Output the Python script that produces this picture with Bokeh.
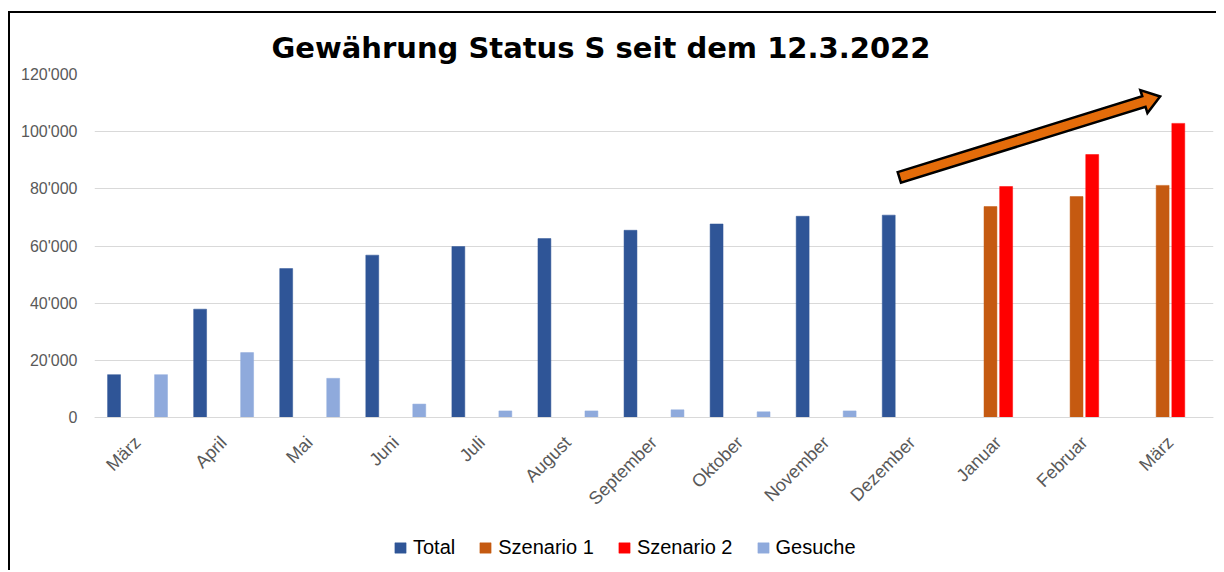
import math
from bokeh.plotting import figure
from bokeh.models import (ColumnDataSource, FixedTicker, Range1d, Legend, LegendItem)
from bokeh.transform import dodge
from bokeh.embed import file_html
from bokeh.resources import INLINE

# ---------------- data ----------------
months = ["März", "April", "Mai", "Juni", "Juli", "August", "September",
          "Oktober", "November", "Dezember", "Januar", "Februar", "März"]
nan = float("nan")
total = [15000, 37900, 52100, 56800, 59800, 62600, 65500, 67700, 70400, 70800, nan, nan, nan]
szenario1 = [nan, nan, nan, nan, nan, nan, nan, nan, nan, nan, 73800, 77300, 81200]
szenario2 = [nan, nan, nan, nan, nan, nan, nan, nan, nan, nan, 80800, 92000, 102900]
gesuche = [15000, 22700, 13700, 4700, 2300, 2300, 2700, 2000, 2300, nan, nan, nan, nan]
y_ticks = [0, 20000, 40000, 60000, 80000, 100000, 120000]
y_tick_labels = ["0", "20'000", "40'000", "60'000", "80'000", "100'000", "120'000"]
series_names = ["Total", "Szenario 1", "Szenario 2", "Gesuche"]
title_text = "Gewährung Status S seit dem 12.3.2022"
arrow_start = (8.85, 84000)
arrow_end = (11.88, 112300)

# ---------------- styling ----------------
colors = ["#2F5597", "#C55A11", "#FF0000", "#8FAADC"]
grey_text = "#595959"
grid_color = "#D9D9D9"
FONT = "Liberation Sans"

# frame spans from the top gridline down to the bottom of the window;
# the value axis occupies the upper 343 px of it
PLOT_H = 343
EXTRA_H = 153
FRAME_W, FRAME_H = 1119, PLOT_H + EXTRA_H
Y_MAX = 120000
Y_MIN = -Y_MAX * EXTRA_H / PLOT_H
MB_L, MB_R, MB_T, MB_B = 84, 3, 61, 0

x_idx = list(range(len(months)))
source = ColumnDataSource(dict(x=x_idx, total=total, sz1=szenario1,
                               sz2=szenario2, ges=gesuche))

p = figure(frame_width=FRAME_W, frame_height=FRAME_H,
           output_backend="svg", toolbar_location=None,
           x_range=Range1d(-0.5, len(months) - 0.5), y_range=Range1d(Y_MIN, Y_MAX),
           min_border_left=MB_L, min_border_right=MB_R,
           min_border_top=MB_T, min_border_bottom=MB_B)
p.outline_line_color = None
p.background_fill_color = "white"
p.border_fill_color = "white"
p.styles = {"border-left": "2px solid black", "border-top": "2px solid black",
            "margin-top": "11px", "margin-left": "8px"}

slot = 0.182
bw = 0.15
fields = ["total", "sz1", "sz2", "ges"]
offsets = [-1.5 * slot, -0.5 * slot, 0.5 * slot, 1.5 * slot]
renderers = []
for f, off, c in zip(fields, offsets, colors):
    r = p.vbar(x=dodge("x", off), top=f, bottom=0, width=bw, source=source,
               fill_color=c, line_color=c, line_width=0.5)
    renderers.append(r)

# axes
p.xgrid.grid_line_color = None
p.ygrid.grid_line_color = grid_color
p.ygrid.grid_line_width = 1
p.ygrid.ticker = FixedTicker(ticks=y_ticks)

p.yaxis.ticker = FixedTicker(ticks=y_ticks)
p.yaxis.major_label_overrides = {t: l for t, l in zip(y_ticks, y_tick_labels)}
p.yaxis.axis_line_color = None
p.yaxis.major_tick_line_color = None
p.yaxis.minor_tick_line_color = None
p.yaxis.major_label_text_font = FONT
p.yaxis.major_label_text_font_size = "16px"
p.yaxis.major_label_text_color = grey_text
p.yaxis.major_label_standoff = 11

p.xaxis.fixed_location = 0
p.xaxis.ticker = FixedTicker(ticks=x_idx)
p.xaxis.major_label_overrides = {i: m for i, m in zip(x_idx, months)}
p.xaxis.axis_line_color = grid_color
p.xaxis.major_tick_line_color = None
p.xaxis.minor_tick_line_color = None
p.xaxis.major_label_orientation = math.pi / 4
p.xaxis.major_label_text_font = FONT
p.xaxis.major_label_text_font_size = "18px"
p.xaxis.major_label_text_color = grey_text
p.xaxis.major_label_standoff = 16

# title
p.title.text = title_text
p.title.text_font = "DejaVu Sans"
p.title.text_font_style = "bold"
p.title.text_font_size = "29px"
p.title.text_color = "black"
p.title.align = "left"
p.title.offset = 177
p.title.standoff = 19

# arrow (block arrow built in pixel space, converted to data space)
px_x = FRAME_W / (p.x_range.end - p.x_range.start)
px_y = FRAME_H / (p.y_range.end - p.y_range.start)
sx0, sy0 = arrow_start[0] * px_x, arrow_start[1] * px_y
sx1, sy1 = arrow_end[0] * px_x, arrow_end[1] * px_y
L = math.hypot(sx1 - sx0, sy1 - sy0)
ux, uy = (sx1 - sx0) / L, (sy1 - sy0) / L
nx, ny = -uy, ux
shaft_hw, head_hw, head_len = 5.5, 12.0, 17.0
bx, by = sx1 - ux * head_len, sy1 - uy * head_len
pts = [
    (sx0 + nx * shaft_hw, sy0 + ny * shaft_hw),
    (bx + nx * shaft_hw, by + ny * shaft_hw),
    (bx + nx * head_hw, by + ny * head_hw),
    (sx1, sy1),
    (bx - nx * head_hw, by - ny * head_hw),
    (bx - nx * shaft_hw, by - ny * shaft_hw),
    (sx0 - nx * shaft_hw, sy0 - ny * shaft_hw),
]
p.patch([q[0] / px_x for q in pts], [q[1] / px_y for q in pts],
        fill_color="#E46C0A", line_color="black", line_width=2.5,
        line_join="miter")

# legend (inside the lower, label-only part of the frame)
items = [LegendItem(label=n, renderers=[r]) for n, r in zip(series_names, renderers)]
legend = Legend(items=items, orientation="horizontal", location=(299, 11),
                glyph_width=14, glyph_height=13, label_standoff=6, spacing=23,
                label_text_font=FONT, label_text_font_size="20px",
                label_text_color="black", padding=0, margin=0,
                border_line_color=None, background_fill_alpha=0,
                label_height=20)
p.add_layout(legend, "center")

open("out.html", "w").write(file_html(p, INLINE))
